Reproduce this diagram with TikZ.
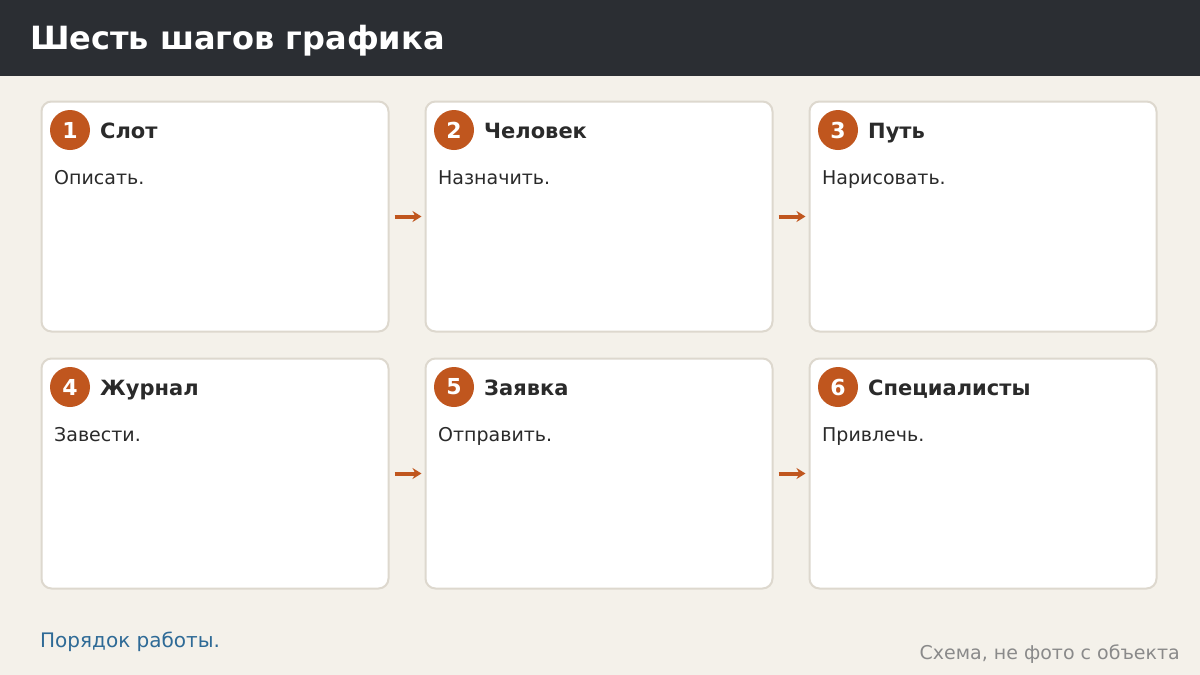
\documentclass[tikz,border=0pt]{standalone}
\usepackage{fontspec}
\setmainfont{DejaVu Sans}
\usetikzlibrary{positioning,arrows.meta}

\definecolor{headbg}{HTML}{2B2E33}
\definecolor{pagebg}{HTML}{F4F1EA}
\definecolor{cardline}{HTML}{DDD8CE}
\definecolor{rust}{HTML}{C0561E}
\definecolor{ink}{HTML}{2A2A2A}
\definecolor{linkblue}{HTML}{2E6A96}
\definecolor{note}{HTML}{8A8A8A}

\tikzset{
  card/.style={draw=cardline, line width=2pt, fill=white, rounded corners=10pt,
    minimum width=347pt, minimum height=230pt, inner sep=0pt},
  num/.style={circle, fill=rust, minimum size=40pt, inner sep=0pt,
    text=white, font=\bfseries\fontsize{22}{26}\selectfont},
  head/.style={anchor=base west, inner sep=0pt, text=ink,
    font=\bfseries\fontsize{21}{25}\selectfont},
  body/.style={anchor=base west, inner sep=0pt, text=ink,
    font=\fontsize{19}{23}\selectfont},
  arr/.style={-{Stealth[length=9pt,width=11pt]}, rust, line width=4pt,
    shorten <=5pt, shorten >=3pt}
}

\begin{document}
\begin{tikzpicture}[x=1pt,y=-1pt]
    \useasboundingbox (0,0) rectangle (1200,675);
    \fill[pagebg] (0,0) rectangle (1200,675);
    %header
    \fill[headbg] (0,0) rectangle (1200,76);
    \node[anchor=base west, inner sep=0pt, text=white,
      font=\bfseries\fontsize{32}{38}\selectfont] (title) at (30,49) {Шесть шагов графика};
    %cards
    \node[card] (c1) at (215,216.5) {};
    \node[card] (c2) at (599,216.5) {};
    \node[card] (c3) at (983,216.5) {};
    \node[card] (c4) at (215,473.5) {};
    \node[card] (c5) at (599,473.5) {};
    \node[card] (c6) at (983,473.5) {};
    %numbers
    \node[num] (n1) at (70,130) {1};
    \node[num] (n2) at (454,130) {2};
    \node[num] (n3) at (838,130) {3};
    \node[num] (n4) at (70,387) {4};
    \node[num] (n5) at (454,387) {5};
    \node[num] (n6) at (838,387) {6};
    %titles
    \node[head] (h1) at (100,138) {Слот};
    \node[head] (h2) at (484,138) {Человек};
    \node[head] (h3) at (868,138) {Путь};
    \node[head] (h4) at (100,395) {Журнал};
    \node[head] (h5) at (484,395) {Заявка};
    \node[head] (h6) at (868,395) {Специалисты};
    %texts
    \node[body] (t1) at (54,184) {Описать.};
    \node[body] (t2) at (438,184) {Назначить.};
    \node[body] (t3) at (822,184) {Нарисовать.};
    \node[body] (t4) at (54,441) {Завести.};
    \node[body] (t5) at (438,441) {Отправить.};
    \node[body] (t6) at (822,441) {Привлечь.};
    %edges
    \path[arr]
     (c1.east) edge (c2.west)
     (c2.east) edge (c3.west)
     (c4.east) edge (c5.west)
     (c5.east) edge (c6.west);
    %footer
    \node[anchor=base west, inner sep=0pt, text=linkblue,
      font=\fontsize{20}{24}\selectfont] (foot) at (40,647) {Порядок работы.};
    \node[anchor=base east, inner sep=0pt, text=note,
      font=\fontsize{19}{23}\selectfont] (credit) at (1180,659) {Схема, не фото с объекта};
\end{tikzpicture}
\end{document}
